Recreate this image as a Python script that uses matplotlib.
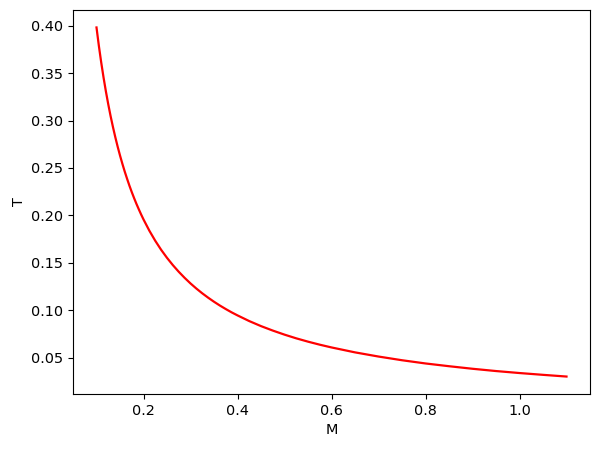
import numpy as np
import matplotlib
matplotlib.use("Agg")
import matplotlib.pyplot as plt

# values
M = [0.100, 0.105, 0.110, 0.115, 0.120, 0.125, 0.130, 0.135, 0.140, 0.145,
     0.150, 0.155, 0.160, 0.165, 0.170, 0.175, 0.180, 0.185, 0.190, 0.195,
     0.200, 0.2125, 0.225, 0.2375, 0.250, 0.2625, 0.275, 0.2875, 0.300,
     0.3125, 0.325, 0.3375, 0.350, 0.3625, 0.375, 0.3875, 0.400,
     0.425, 0.450, 0.475, 0.500, 0.525, 0.550, 0.575, 0.600,
     0.65, 0.70, 0.75, 0.80, 0.85, 0.90, 0.95, 1.00, 1.05, 1.10]
T = [0.3982, 0.3789, 0.3614, 0.3454, 0.3307, 0.3172, 0.3047, 0.2932, 0.2825, 0.2725,
     0.2632, 0.2545, 0.2463, 0.2387, 0.2314, 0.2246, 0.2182, 0.2121, 0.2064, 0.2009,
     0.1957, 0.1838, 0.1732, 0.1637, 0.1552, 0.1475, 0.1405, 0.1341, 0.1282,
     0.1228, 0.1178, 0.1132, 0.1089, 0.1049, 0.1012, 0.0977, 0.0945,
     0.0885, 0.0832, 0.0785, 0.0742, 0.0703, 0.0668, 0.0636, 0.0607,
     0.0555, 0.0511, 0.0472, 0.0438, 0.0409, 0.0382, 0.0358, 0.0337, 0.0318, 0.0300]

plt.rcParams['font.size'] = 10.4

fig = plt.figure(figsize=(5.99, 4.49), dpi=100)
ax = fig.add_subplot(111)
fig.subplots_adjust(left=73/599, right=590/599, top=1-10/449, bottom=1-394/449)

ax.plot(M, T, 'r', linewidth=1.6)
ax.set_xlabel('M')
ax.set_ylabel('T')

fig.savefig('out.png', dpi=100)
